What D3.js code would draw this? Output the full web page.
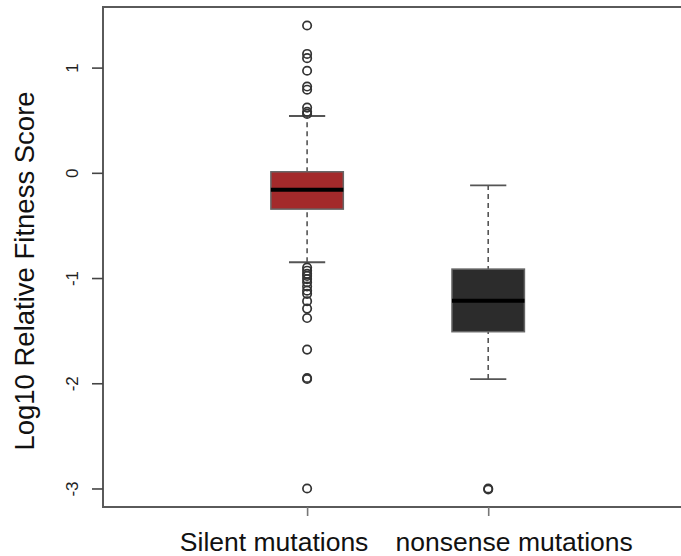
<!DOCTYPE html>
<html>
<head>
<meta charset="utf-8">
<script src="https://cdn.jsdelivr.net/npm/d3@7"></script>
<style>
  body { margin: 0; background: #fff; }
  svg { display: block; font-family: "Liberation Sans", Arial, sans-serif; }
</style>
</head>
<body>
<svg id="chart" width="681" height="556"></svg>
<script>
"use strict";

// group names, positions on the x axis
var groups = ["Silent mutations", "nonsense mutations"];
var groupPos = [1, 2];

// box stats: lower whisker, q1, median, q3, upper whisker
var silentStats = [-0.85, -0.345, -0.16, 0.01, 0.54];
var nonsenseStats = [-1.96, -1.51, -1.215, -0.915, -0.12];

// outliers
var silentOutliers = [1.40, 1.13, 1.09, 0.97, 0.82, 0.79, 0.62, 0.58, 0.56,
	-0.90, -0.93, -0.96, -0.98, -1.01, -1.04, -1.08, -1.12, -1.15, -1.22,
	-1.29, -1.38, -1.68, -1.95, -1.96, -3.0];
var nonsenseOutliers = [-3.0, -3.01];

var yTicks = [1, 0, -1, -2, -3];
var boxColors = ["#a32a2b", "#2c2c2c"];

var boxes = [
	{ name: groups[0], pos: groupPos[0], stats: silentStats, out: silentOutliers, fill: boxColors[0] },
	{ name: groups[1], pos: groupPos[1], stats: nonsenseStats, out: nonsenseOutliers, fill: boxColors[1] }
];

var margin = { left: 103, top: 7, right: 701, bottom: 507 };

var svg = d3.select("#chart");

var x = d3.scaleLinear().domain([-0.127, 3.175]).range([margin.left, margin.right]);
var y = d3.scaleLinear().domain([-3.176, 1.576]).range([margin.bottom, margin.top]);

var halfBox = (x(1.2) - x(1));
var halfCap = (x(1.1) - x(1));

var g = svg.append("g");

// whiskers
var bx = g.selectAll(".box").data(boxes).enter().append("g").attr("class", "box");

bx.append("line")
	.attr("x1", function(d) { return x(d.pos); })
	.attr("x2", function(d) { return x(d.pos); })
	.attr("y1", function(d) { return y(d.stats[0]); })
	.attr("y2", function(d) { return y(d.stats[4]); })
	.attr("stroke", "#555")
	.attr("stroke-width", 1.6)
	.attr("stroke-dasharray", "5,4");

[0, 4].forEach(function(k) {
	bx.append("line")
		.attr("x1", function(d) { return x(d.pos) - halfCap; })
		.attr("x2", function(d) { return x(d.pos) + halfCap; })
		.attr("y1", function(d) { return y(d.stats[k]); })
		.attr("y2", function(d) { return y(d.stats[k]); })
		.attr("stroke", "#555")
		.attr("stroke-width", 1.8);
});

// box
bx.append("rect")
	.attr("x", function(d) { return x(d.pos) - halfBox; })
	.attr("width", halfBox * 2)
	.attr("y", function(d) { return y(d.stats[3]); })
	.attr("height", function(d) { return y(d.stats[1]) - y(d.stats[3]); })
	.attr("fill", function(d) { return d.fill; })
	.attr("stroke", "#666")
	.attr("stroke-width", 1.5);

// median
bx.append("line")
	.attr("x1", function(d) { return x(d.pos) - halfBox; })
	.attr("x2", function(d) { return x(d.pos) + halfBox; })
	.attr("y1", function(d) { return y(d.stats[2]); })
	.attr("y2", function(d) { return y(d.stats[2]); })
	.attr("stroke", "#000")
	.attr("stroke-width", 4);

// outliers
bx.selectAll(".out")
	.data(function(d) { return d.out.map(function(v) { return { pos: d.pos, v: v }; }); })
	.enter().append("circle")
	.attr("class", "out")
	.attr("cx", function(d) { return x(d.pos); })
	.attr("cy", function(d) { return y(d.v); })
	.attr("r", 4.2)
	.attr("fill", "none")
	.attr("stroke", "#333")
	.attr("stroke-width", 1.7);

// frame (right side runs off the picture)
svg.append("path")
	.attr("d", "M" + margin.right + "," + margin.top + "H" + margin.left + "V" + margin.bottom + "H" + margin.right)
	.attr("fill", "none")
	.attr("stroke", "#5a5a5a")
	.attr("stroke-width", 2);

// y axis, plain hyphen for negatives like R
var yAxis = d3.axisLeft(y).tickValues(yTicks).tickSize(11).tickFormat(function(d) { return String(d); });
var ya = svg.append("g")
	.attr("transform", "translate(" + margin.left + ",0)")
	.call(yAxis);
ya.select(".domain").remove();
ya.selectAll(".tick line").attr("stroke", "#444").attr("stroke-width", 1.6);
ya.selectAll(".tick text")
	.attr("x", 0).attr("dy", 0)
	.attr("transform", "translate(-25,0) rotate(-90)")
	.style("text-anchor", "middle")
	.style("font-size", "17px")
	.style("font-family", "Liberation Sans, Arial, sans-serif")
	.attr("fill", "#222");

// x axis ticks
var xAxis = d3.axisBottom(x).tickValues(groupPos).tickSize(9).tickFormat("");
var xa = svg.append("g")
	.attr("transform", "translate(0," + margin.bottom + ")")
	.call(xAxis);
xa.select(".domain").remove();
xa.selectAll(".tick line").attr("stroke", "#777").attr("stroke-width", 1.6);

// x labels, shifted off the ticks as in the original
var labelShift = [-33, 26];
svg.selectAll(".xlab").data(boxes).enter().append("text")
	.attr("class", "xlab")
	.attr("x", function(d, i) { return x(d.pos) + labelShift[i]; })
	.attr("y", 551)
	.attr("text-anchor", "middle")
	.style("font-size", "26.5px")
	.attr("fill", "#111")
	.text(function(d) { return d.name; });

// y axis label
svg.append("text")
	.attr("text-anchor", "middle")
	.attr("transform", "translate(34," + 271 + ")rotate(-90)")
	.style("font-size", "27.5px")
	.attr("fill", "#111")
	.text("Log10 Relative Fitness Score");
</script>
</body>
</html>
